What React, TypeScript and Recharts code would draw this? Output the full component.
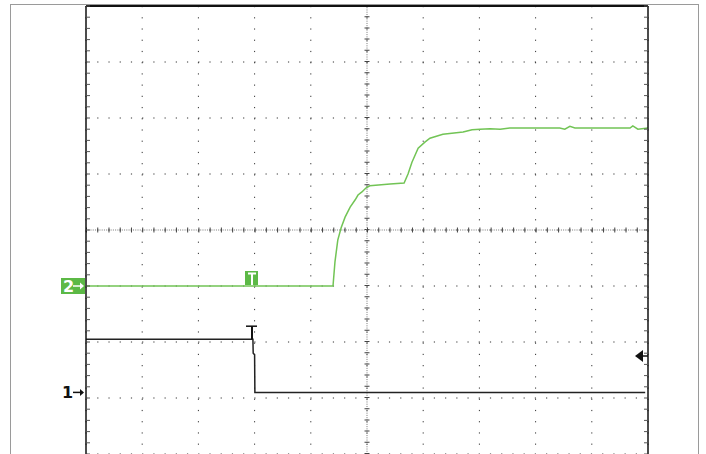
import React from 'react';
import { LineChart, Line, XAxis, YAxis, CartesianGrid, ReferenceLine, ReferenceDot } from 'recharts';

// time in divisions (0..10), level in divisions (-4..4)
const ch2Time = [0, 4.395, 4.43, 4.48, 4.54, 4.61, 4.7, 4.79, 4.84, 4.91, 4.98, 5.05, 5.41, 5.66, 5.73, 5.8, 5.91, 6.03, 6.12, 6.35, 6.71, 6.87, 7.01, 7.19, 7.37, 7.54, 8.43, 8.52, 8.61, 8.7, 9.68, 9.73, 9.82, 10];
const ch2Level = [-1, -1, -0.57, -0.18, 0.04, 0.23, 0.41, 0.54, 0.625, 0.68, 0.75, 0.79, 0.82, 0.84, 1.0, 1.21, 1.46, 1.57, 1.64, 1.71, 1.75, 1.79, 1.8, 1.81, 1.8, 1.82, 1.82, 1.8, 1.85, 1.82, 1.82, 1.86, 1.8, 1.82];

const ch1Time = [0, 2.97, 2.975, 3.0, 3.005, 3.04, 9.95];
const ch1Level = [-1.95, -1.95, -2.2, -2.23, -2.9, -2.9, -2.9];

const xMajor = [0, 1, 2, 3, 4, 5, 6, 7, 8, 9, 10];
const yMajor = [-4, -3, -2, -1, 0, 1, 2, 3, 4];
const xMinor = Array.from({ length: 51 }, (_, i) => +(i * 0.2).toFixed(1));
const yMinor = Array.from({ length: 41 }, (_, i) => +(-4 + i * 0.2).toFixed(1));

const ch2Marker = { t: 0, v: -1 };
const ch1Marker = { t: 0, v: -2.9 };
const trigPos = 2.945;
const trigLevel = -2.25;

const ch2Data = ch2Time.map((t, i) => ({ t, v: ch2Level[i] }));
const ch1Data = ch1Time.map((t, i) => ({ t, v: ch1Level[i] }));

const GREEN = '#72c455';
const BOX = '#5cb946';
const noLabel = () => <g />;

const Ch2Tag = ({ cx, cy }: any) => (
  <g>
    <rect x={cx - 25} y={cy - 8} width={24} height={16} fill={BOX} />
    <text x={cx - 23} y={cy + 6} fill="#fff" fontFamily="DejaVu Sans" fontWeight="bold" fontSize={16}>2</text>
    <path d={`M${cx - 13} ${cy} H${cx - 5}`} stroke="#fff" strokeWidth={1.5} />
    <path d={`M${cx - 6} ${cy - 3.5} L${cx - 2} ${cy} L${cx - 6} ${cy + 3.5} Z`} fill="#fff" />
  </g>
);

const Ch1Tag = ({ cx, cy }: any) => (
  <g>
    <text x={cx - 24} y={cy + 6} fill="#111" fontFamily="DejaVu Sans" fontWeight="bold" fontSize={16}>1</text>
    <path d={`M${cx - 13} ${cy} H${cx - 5}`} stroke="#111" strokeWidth={1.5} />
    <path d={`M${cx - 6} ${cy - 3.5} L${cx - 2} ${cy} L${cx - 6} ${cy + 3.5} Z`} fill="#111" />
  </g>
);

const GreenT = ({ cx, cy }: any) => (
  <g>
    <rect x={cx - 6.5} y={cy - 15} width={13} height={14} fill={BOX} />
    <path d={`M${cx - 3.5} ${cy - 12.5} H${cx + 4.5} M${cx + 0.5} ${cy - 12.5} V${cy - 1}`} stroke="#fff" strokeWidth={2} />
  </g>
);

const BlackT = ({ cx, cy }: any) => (
  <g>
    <path d={`M${cx - 5.5} ${cy - 13} H${cx + 5.5}`} stroke="#111" strokeWidth={1.5} />
    <path d={`M${cx + 0.5} ${cy - 13} V${cy}`} stroke="#111" strokeWidth={2} />
  </g>
);

const TrigArrow = ({ cx, cy }: any) => (
  <g>
    <path d={`M${cx - 13} ${cy} L${cx - 5} ${cy - 6} L${cx - 5} ${cy + 6} Z`} fill="#111" />
    <path d={`M${cx - 5} ${cy} H${cx}`} stroke="#111" strokeWidth={1.5} />
  </g>
);

export default function App() {
  return (
    <div style={{ position: 'absolute', left: 0, top: 0, width: 706, height: 454, overflow: 'hidden', background: '#fff' }}>
      <div style={{ position: 'absolute', left: 10, top: 4, width: 687, height: 470, border: '1px solid #9a9a9a' }} />
      <LineChart width={706} height={460} margin={{ top: 6, right: 58, bottom: 6, left: 86 }} style={{ position: 'absolute', left: 0, top: 0 }}>
        <XAxis xAxisId="x" type="number" dataKey="t" domain={[0, 10]} ticks={xMajor} allowDataOverflow hide />
        <YAxis yAxisId="y" type="number" dataKey="v" domain={[-4, 4]} ticks={yMajor} allowDataOverflow hide />
        <XAxis xAxisId="top" orientation="top" mirror type="number" domain={[0, 10]} ticks={xMinor} interval={0} allowDataOverflow
          axisLine={{ stroke: '#111', strokeWidth: 2 }} tickLine={{ stroke: '#555' }} tickSize={4} tick={noLabel} />
        <YAxis yAxisId="left" orientation="left" mirror type="number" domain={[-4, 4]} ticks={yMinor} interval={0} allowDataOverflow
          axisLine={{ stroke: '#111', strokeWidth: 1.5 }} tickLine={{ stroke: '#555' }} tickSize={4} tick={noLabel} />
        <YAxis yAxisId="right" orientation="right" mirror type="number" domain={[-4, 4]} ticks={yMinor} interval={0} allowDataOverflow
          axisLine={{ stroke: '#111', strokeWidth: 1.5 }} tickLine={{ stroke: '#555' }} tickSize={4} tick={noLabel} />
        <CartesianGrid xAxisId="x" yAxisId="y" stroke="#333" strokeDasharray="1.2 10.02" />
        <ReferenceLine xAxisId="x" yAxisId="y" x={5} stroke="#777" strokeDasharray="1 1.24" />
        <ReferenceLine xAxisId="x" yAxisId="y" x={5} stroke="#444" strokeWidth={5} strokeDasharray="1 10.2" />
        <ReferenceLine xAxisId="x" yAxisId="y" y={0} stroke="#777" strokeDasharray="1 1.24" />
        <ReferenceLine xAxisId="x" yAxisId="y" y={0} stroke="#444" strokeWidth={5} strokeDasharray="1 10.24" />
        <Line xAxisId="x" yAxisId="y" data={ch1Data} dataKey="v" type="linear" stroke="#222" strokeWidth={1.5} dot={false} isAnimationActive={false} />
        <Line xAxisId="x" yAxisId="y" data={ch2Data} dataKey="v" type="linear" stroke={GREEN} strokeWidth={1.5} dot={false} isAnimationActive={false} />
        <ReferenceDot xAxisId="x" yAxisId="y" x={ch2Marker.t} y={ch2Marker.v} ifOverflow="visible" shape={Ch2Tag} />
        <ReferenceDot xAxisId="x" yAxisId="y" x={ch1Marker.t} y={ch1Marker.v} ifOverflow="visible" shape={Ch1Tag} />
        <ReferenceDot xAxisId="x" yAxisId="y" x={trigPos} y={ch2Marker.v} ifOverflow="visible" shape={GreenT} />
        <ReferenceDot xAxisId="x" yAxisId="y" x={trigPos} y={-1.95} ifOverflow="visible" shape={BlackT} />
        <ReferenceDot xAxisId="x" yAxisId="y" x={10} y={trigLevel} ifOverflow="visible" shape={TrigArrow} />
      </LineChart>
    </div>
  );
}
